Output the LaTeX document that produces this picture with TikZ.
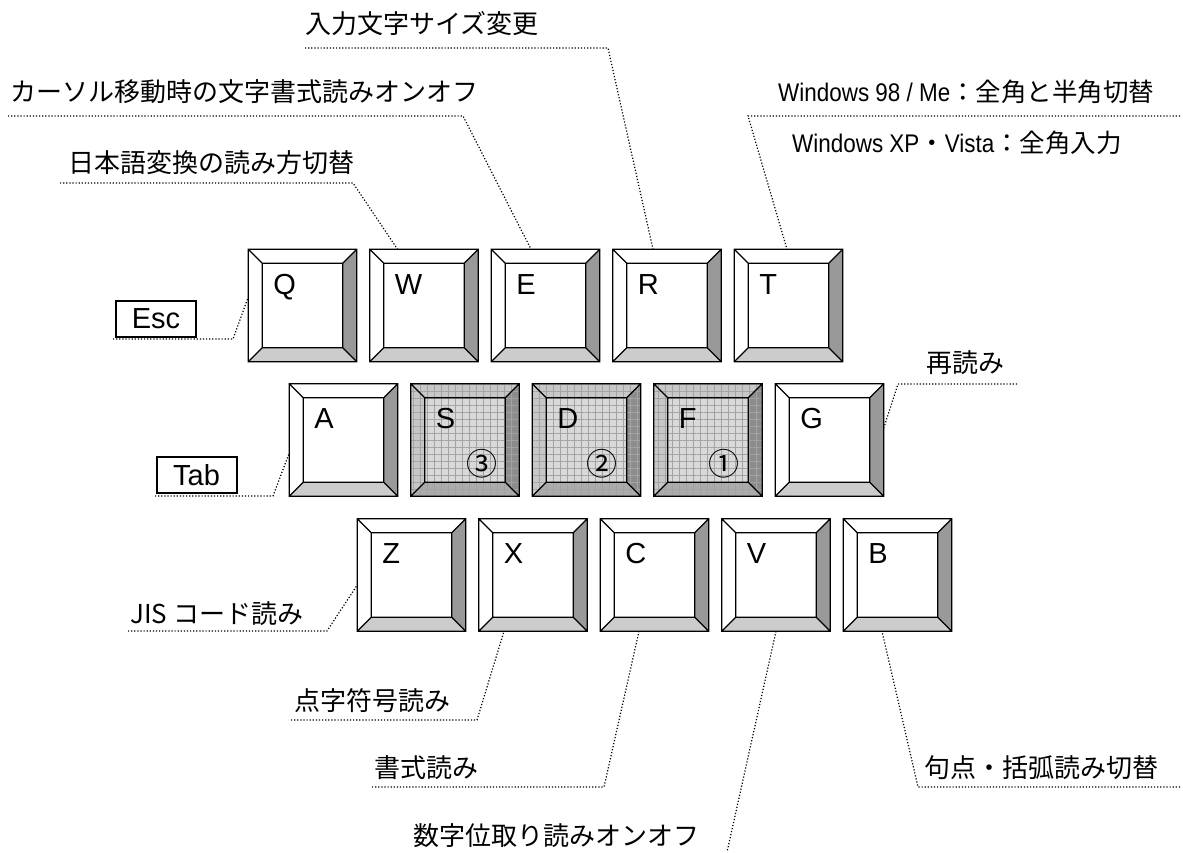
\documentclass[tikz,border=0pt]{standalone}
\usepackage{fontspec}
\setmainfont{Liberation Sans}
\newfontfamily\jpfont{Noto Sans CJK JP}
\newfontfamily\winfont[FakeStretch=0.88]{Liberation Sans}
\usetikzlibrary{calc,patterns.meta}

% key colours (plain keys)
\colorlet{ktop}{white}
\colorlet{kleft}{white}
\colorlet{kright}{black!40}
\colorlet{kbottom}{black!20}
\colorlet{kface}{white}
\newcommand{\bev}{14}

\tikzset{
  keybox/.style={rectangle, minimum width=108.5pt, minimum height=112.5pt, inner sep=0pt, outer sep=0pt},
  keyline/.style={draw=black, line width=1.3pt, line join=miter},
  keytex/.style={},
  keylbl/.style={font=\fontsize{29}{29}\selectfont, inner sep=0pt, anchor=base west},
  keynum/.style={font=\jpfont\fontsize{31}{31}\selectfont, inner sep=0pt},
  jlabel/.style={font=\jpfont\fontsize{26}{26}\selectfont, inner sep=0pt, anchor=west},
  wlabel/.style={font=\winfont\fontsize{25.5}{25.5}\selectfont, inner sep=0pt, anchor=west},
  keyname/.style={draw, line width=2pt, minimum width=80pt, minimum height=36pt, inner sep=0pt, font=\fontsize{29}{29}\selectfont},
  lead/.style={line width=1.2pt, dash pattern=on 1.2pt off 1.9pt}
}

\newcommand{\keycap}[4]{%
  \node[keybox] (#1) at ({#2},{#3}) {};
  \coordinate (#1-a) at ($(#1.north west)+(\bev,\bev)$);
  \coordinate (#1-b) at ($(#1.north east)+(-\bev,\bev)$);
  \coordinate (#1-c) at ($(#1.south east)+(-\bev,-\bev)$);
  \coordinate (#1-d) at ($(#1.south west)+(\bev,-\bev)$);
  \fill[ktop, keytex] (#1.north west) -- (#1.north east) -- (#1-b) -- (#1-a) -- cycle;
  \fill[kleft, keytex] (#1.north west) -- (#1-a) -- (#1-d) -- (#1.south west) -- cycle;
  \fill[kright, keytex] (#1.north east) -- (#1.south east) -- (#1-c) -- (#1-b) -- cycle;
  \fill[kbottom, keytex] (#1.south west) -- (#1-d) -- (#1-c) -- (#1.south east) -- cycle;
  \fill[kface, keytex] (#1-a) rectangle (#1-c);
  \draw[keyline] (#1.north west) rectangle (#1.south east) (#1-a) rectangle (#1-c)
    (#1.north west) -- (#1-a) (#1.north east) -- (#1-b) (#1.south east) -- (#1-c) (#1.south west) -- (#1-d);
  \node[keylbl] at ($(#1.north west)+(25,45)$) {#4};
}

\begin{document}
\begin{tikzpicture}[x=1pt, y=-1pt]
\useasboundingbox (0,0) rectangle (1183,853);

% keys
\foreach \l [count=\i from 0] in {Q,W,E,R,T}
  \keycap{k\l}{302.5+121.5*\i}{305.5}{\l};
\keycap{kA}{343.5}{440}{A}
\keycap{kG}{829.5}{440}{G}
\begin{scope}
  \colorlet{ktop}{black!22}
  \colorlet{kleft}{black!22}
  \colorlet{kright}{black!45}
  \colorlet{kbottom}{black!33}
  \colorlet{kface}{black!15}
  \tikzset{keytex/.style={postaction={pattern={Hatch[angle=0,distance=7pt,line width=0.5pt]}, pattern color=black!36}}}
  \foreach \l [count=\i from 1] in {S,D,F}
    \keycap{k\l}{343.5+121.5*\i}{440}{\l};
\end{scope}
\foreach \l [count=\i from 0] in {Z,X,C,V,B}
  \keycap{k\l}{411.5+121.5*\i}{575}{\l};

\node[keynum] (nS) at ($(kS.north west)+(71,80)$) {③};
\node[keynum] (nD) at ($(kD.north west)+(70,80)$) {②};
\node[keynum] (nF) at ($(kF.north west)+(70,80)$) {①};

% labels
\node[keyname] (esc) at (156,318.5) {Esc};
\node[keyname] (tab) at (196.5,475) {Tab};
\node[jlabel] (tSize) at (305,24) {入力文字サイズ変更};
\node[jlabel] (tCursor) at (10,92) {カーソル移動時の文字書式読みオンオフ};
\node[jlabel] (tKana) at (68,163) {日本語変換の読み方切替};
\node[wlabel] (tWin1) at (778,92) {Windows 98 / Me{\jpfont ：全角と半角切替}};
\node[wlabel] (tWin2) at (792,143) {Windows XP{\jpfont ・}Vista{\jpfont ：全角入力}};
\node[jlabel] (tReread) at (926,363) {再読み};
\node[jlabel] (tJis) at (130,614) {JIS コード読み};
\node[jlabel] (tBraille) at (294,701) {点字符号読み};
\node[jlabel] (tFormat) at (374,768) {書式読み};
\node[jlabel] (tDigit) at (413,836) {数字位取り読みオンオフ};
\node[jlabel] (tKuten) at (924,768) {句点・括弧読み切替};

% points on the keys
\coordinate (pQ) at ($(kQ.west)+(0,-8.5)$);
\coordinate (pW) at ($(kW.north)+(-26.5,0)$);
\coordinate (pE) at ($(kE.north)+(-14.5,0)$);
\coordinate (pR) at ($(kR.north)+(-14,0)$);
\coordinate (pT) at ($(kT.north)+(-1.5,0)$);
\coordinate (pA) at ($(kA.west)+(0,13)$);
\coordinate (pG) at ($(kG.east)+(0,-12)$);
\coordinate (pZ) at ($(kZ.west)+(0,10)$);
\coordinate (pX) at ($(kX.south)+(-29,0)$);
\coordinate (pC) at ($(kC.south)+(-15.5,0)$);
\coordinate (pV) at (kV.south);
\coordinate (pB) at ($(kB.south)+(-15.5,0)$);

% underlines and bends
\coordinate (uSize) at (305,48);     \coordinate (bSize) at (608,48);
\coordinate (uCursor) at (8,116);    \coordinate (bCursor) at (463,116);
\coordinate (uKana) at (60,183);     \coordinate (bKana) at (353,183);
\coordinate (uWin) at (1180,116);    \coordinate (bWin) at (748,116);
\coordinate (uEsc) at (113,339);     \coordinate (bEsc) at (233,339);
\coordinate (uTab) at (155,496);     \coordinate (bTab) at (273,496);
\coordinate (uReread) at (1017,384); \coordinate (bReread) at (898,384);
\coordinate (uJis) at (128,631);     \coordinate (bJis) at (327,631);
\coordinate (uBraille) at (291,720); \coordinate (bBraille) at (477,720);
\coordinate (uFormat) at (372,787);  \coordinate (bFormat) at (604,787);
\coordinate (eDigit) at (727,852);
\coordinate (uKuten) at (1180,787);  \coordinate (bKuten) at (918,787);

\draw[lead] (uSize) -- (bSize) -- (pR);
\draw[lead] (uCursor) -- (bCursor) -- (pE);
\draw[lead] (uKana) -- (bKana) -- (pW);
\draw[lead] (uWin) -- (bWin) -- (pT);
\draw[lead] (uEsc) -- (bEsc) -- (pQ);
\draw[lead] (uTab) -- (bTab) -- (pA);
\draw[lead] (uReread) -- (bReread) -- (pG);
\draw[lead] (uJis) -- (bJis) -- (pZ);
\draw[lead] (uBraille) -- (bBraille) -- (pX);
\draw[lead] (uFormat) -- (bFormat) -- (pC);
\draw[lead] (pV) -- (eDigit);
\draw[lead] (uKuten) -- (bKuten) -- (pB);
\end{tikzpicture}
\end{document}
